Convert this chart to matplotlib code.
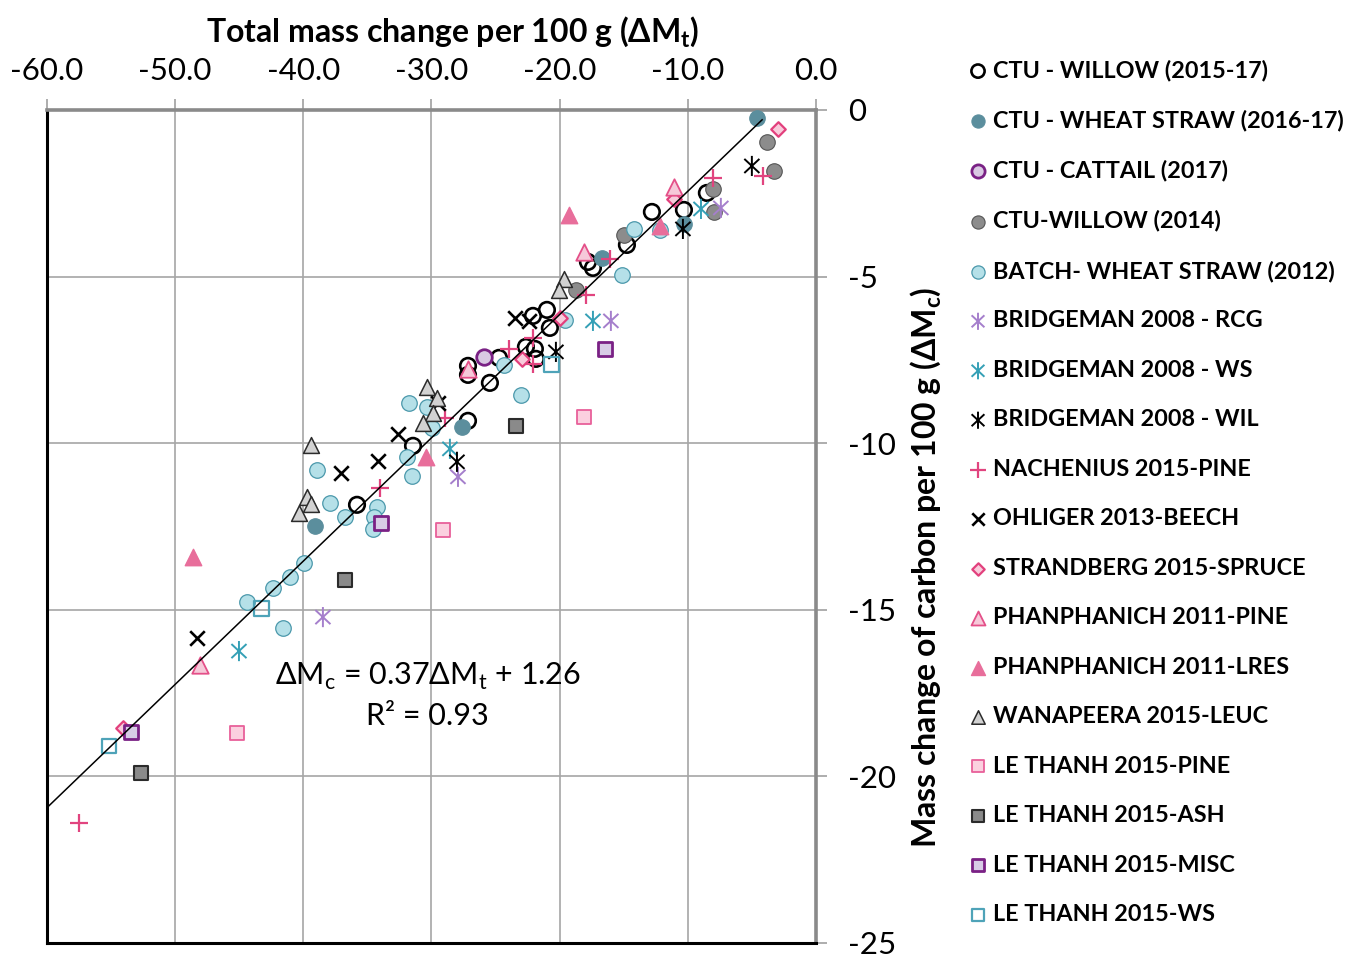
import numpy as np
import matplotlib
matplotlib.use("Agg")
from matplotlib import pyplot as plt
from matplotlib.path import Path

plt.rcParams['font.family'] = ['Lato', 'DejaVu Sans']
plt.rcParams['mathtext.fontset'] = 'custom'
plt.rcParams['mathtext.rm'] = 'Lato'
plt.rcParams['mathtext.bf'] = 'Lato:bold'

# total mass change (x) and carbon mass change (y), per 100 g
ctu_willow_x = [-8.51, -10.30, -12.80, -14.75, -17.79, -17.40, -20.99, -22.08, -20.76, -22.63,
                -21.93, -21.85, -24.73, -27.15, -27.15, -25.44, -27.15, -31.44, -35.81]
ctu_willow_y = [-2.49, -3.00, -3.06, -4.05, -4.56, -4.74, -6.00, -6.18, -6.54, -7.11,
                -7.17, -7.47, -7.44, -7.68, -7.95, -8.19, -9.33, -10.08, -11.85]

ctu_straw_x = [-4.61, -10.30, -16.70, -27.62, -39.09]
ctu_straw_y = [-0.24, -3.42, -4.44, -9.51, -12.48]

ctu_cattail_x = [-25.91]
ctu_cattail_y = [-7.41]

ctu_willow14_x = [-3.83, -3.28, -8.04, -7.96, -14.98, -18.73]
ctu_willow14_y = [-0.96, -1.83, -2.37, -3.06, -3.75, -5.40]

batch_straw_x = [-12.17, -14.20, -15.14, -19.58, -24.34, -23.02, -31.76, -30.35, -29.96, -31.91, -31.52,
                 -38.93, -37.92, -36.75, -34.25, -34.49, -34.57, -39.95, -41.04, -42.37, -44.40, -41.59]
batch_straw_y = [-3.60, -3.57, -4.95, -6.30, -7.65, -8.55, -8.79, -8.91, -9.54, -10.41, -10.98,
                 -10.80, -11.79, -12.21, -11.91, -12.21, -12.57, -13.59, -14.02, -14.35, -14.77, -15.55]

bridge_rcg_x = [-7.42, -16.00, -27.93, -38.47]
bridge_rcg_y = [-2.94, -6.33, -11.01, -15.22]

bridge_ws_x = [-8.97, -17.40, -28.56, -45.02]
bridge_ws_y = [-2.97, -6.33, -10.17, -16.24]

bridge_wil_x = [-5.00, -10.38, -20.29, -28.01]
bridge_wil_y = [-1.68, -3.57, -7.26, -10.56]

nachenius_x = [-4.14, -8.04, -16.07, -17.95, -22.08, -23.95, -22.08, -28.95, -34.02, -57.50]
nachenius_y = [-1.98, -2.04, -4.47, -5.55, -6.84, -7.17, -7.62, -9.24, -11.34, -21.40]

ohliger_x = [-23.49, -22.39, -29.49, -32.61, -34.17, -37.06, -48.30]
ohliger_y = [-6.24, -6.33, -8.79, -9.72, -10.53, -10.89, -15.85]

strandberg_x = [-2.97, -11.08, -19.98, -22.94, -54.07]
strandberg_y = [-0.57, -2.67, -6.24, -7.47, -18.55]

phan_pine_x = [-11.08, -18.10, -27.15, -48.06]
phan_pine_y = [-2.31, -4.26, -7.77, -16.66]

phan_lres_x = [-19.27, -12.17, -30.43, -48.61]
phan_lres_y = [-3.15, -3.48, -10.41, -13.41]

wanapeera_x = [-19.66, -20.05, -30.35, -29.57, -29.88, -30.66, -39.40, -39.71, -39.40, -40.34]
wanapeera_y = [-5.07, -5.40, -8.31, -8.64, -9.09, -9.39, -10.05, -11.61, -11.82, -12.09]

lt_pine_x = [-18.10, -29.10, -45.18]
lt_pine_y = [-9.21, -12.60, -18.70]

lt_ash_x = [-23.41, -36.75, -52.67]
lt_ash_y = [-9.48, -14.10, -19.90]

lt_misc_x = [-16.47, -33.94, -53.45]
lt_misc_y = [-7.17, -12.39, -18.67]

lt_ws_x = [-20.60, -43.23, -55.16]
lt_ws_y = [-7.65, -14.95, -19.09]

# linear fit reported on the chart
slope, intercept, r2 = 0.37, 1.26, 0.93
fit_x = np.array([-60.0, -4.2])

# excel-style asterisk: vertical bar plus an X
star = Path([(0, -1), (0, 1), (-0.75, -0.7), (0.75, 0.7), (-0.75, 0.7), (0.75, -0.7)],
            [Path.MOVETO, Path.LINETO, Path.MOVETO, Path.LINETO, Path.MOVETO, Path.LINETO])

series = [
    ("CTU - WILLOW (2015-17)", ctu_willow_x, ctu_willow_y, dict(marker='o', s=125, facecolors='none', edgecolors='black', linewidths=1.9)),
    ("CTU - WHEAT STRAW (2016-17)", ctu_straw_x, ctu_straw_y, dict(marker='o', s=125, facecolors='#5b8e9d', edgecolors='#5b8e9d', linewidths=0.8)),
    ("CTU - CATTAIL (2017)", ctu_cattail_x, ctu_cattail_y, dict(marker='o', s=125, facecolors='#d9c9e3', edgecolors='#7a2185', linewidths=2.0)),
    ("CTU-WILLOW (2014)", ctu_willow14_x, ctu_willow14_y, dict(marker='o', s=125, facecolors='#8c8c8c', edgecolors='#555555', linewidths=0.8)),
    ("BATCH- WHEAT STRAW (2012)", batch_straw_x, batch_straw_y, dict(marker='o', s=125, facecolors='#b5e0e8', edgecolors='#4a98ab', linewidths=0.9)),
    ("BRIDGEMAN 2008 - RCG", bridge_rcg_x, bridge_rcg_y, dict(marker=star, s=210, facecolors='none', edgecolors='#a57fcc', linewidths=1.4)),
    ("BRIDGEMAN 2008 - WS", bridge_ws_x, bridge_ws_y, dict(marker=star, s=210, facecolors='none', edgecolors='#35a0b6', linewidths=1.4)),
    ("BRIDGEMAN 2008 - WIL", bridge_wil_x, bridge_wil_y, dict(marker=star, s=210, facecolors='none', edgecolors='black', linewidths=1.4)),
    ("NACHENIUS 2015-PINE", nachenius_x, nachenius_y, dict(marker='+', s=180, c='#e1447f', linewidths=1.6)),
    ("OHLIGER 2013-BEECH", ohliger_x, ohliger_y, dict(marker='x', s=110, c='black', linewidths=1.9)),
    ("STRANDBERG 2015-SPRUCE", strandberg_x, strandberg_y, dict(marker='D', s=55, facecolors='#f8cbdb', edgecolors='#e2407d', linewidths=1.6)),
    ("PHANPHANICH 2011-PINE", phan_pine_x, phan_pine_y, dict(marker='^', s=140, facecolors='#f6c9d9', edgecolors='#e45089', linewidths=1.3)),
    ("PHANPHANICH 2011-LRES", phan_lres_x, phan_lres_y, dict(marker='^', s=140, facecolors='#e86e9b', edgecolors='#e86e9b', linewidths=1.0)),
    ("WANAPEERA 2015-LEUC", wanapeera_x, wanapeera_y, dict(marker='^', s=130, facecolors='#d2d2d2', edgecolors='#2b2b2b', linewidths=1.1)),
    ("LE THANH 2015-PINE", lt_pine_x, lt_pine_y, dict(marker='s', s=115, facecolors='#fbd0df', edgecolors='#e8609a', linewidths=1.3)),
    ("LE THANH 2015-ASH", lt_ash_x, lt_ash_y, dict(marker='s', s=115, facecolors='#8a8a8a', edgecolors='#2b2b2b', linewidths=1.5)),
    ("LE THANH 2015-MISC", lt_misc_x, lt_misc_y, dict(marker='s', s=115, facecolors='#d8cce6', edgecolors='#7a2185', linewidths=2.0)),
    ("LE THANH 2015-WS", lt_ws_x, lt_ws_y, dict(marker='s', s=115, facecolors='none', edgecolors='#4ea3b8', linewidths=1.6)),
]

fig = plt.figure(figsize=(13.46, 9.58), dpi=100)
ax = fig.add_axes([0.0349, 0.0157, 0.5713, 0.8695])

handles = []
for i, (name, xs, ys, style) in enumerate(series):
    h = ax.scatter(xs, ys, label=name, zorder=3 + i * 0.01, **style)
    handles.append(h)

ax.plot(fit_x, slope * fit_x + intercept, color='black', lw=1.1, zorder=5)

ax.set_xlim(-60, 0)
ax.set_ylim(-25, 0)
ax.set_xticks(np.arange(-60, 1, 10))
ax.set_xticklabels([f"{v:.1f}" for v in np.arange(-60, 1, 10)])
ax.set_yticks(np.arange(-25, 1, 5))
ax.set_yticklabels([f"{v:d}" for v in np.arange(-25, 1, 5)])
ax.xaxis.tick_top()
ax.yaxis.tick_right()
ax.tick_params(axis='both', direction='out', length=8, width=1.2, color='#a0a0a0',
               labelsize=22.5, labelcolor='black')
ax.tick_params(axis='x', pad=10)
ax.tick_params(axis='y', pad=15)
ax.grid(True, color='#a6a6a6', lw=1.2)
ax.set_axisbelow(True)

for side in ('left', 'bottom'):
    ax.spines[side].set_color('black')
    ax.spines[side].set_linewidth(2.2)
for side in ('top', 'right'):
    ax.spines[side].set_color('#8a8a8a')
    ax.spines[side].set_linewidth(2.6)

ax.set_xlabel(r"Total mass change per 100 g (ΔM$_\mathbf{t}$)", fontsize=23, fontweight='bold', labelpad=11)
ax.xaxis.set_label_position('top')
ax.xaxis.label.set_x(0.527)
ax.set_ylabel(r"Mass change of carbon per 100 g (ΔM$_\mathbf{c}$)", fontsize=23, fontweight='bold', labelpad=9)
ax.yaxis.set_label_position('right')
ax.yaxis.label.set_y(0.451)

ax.text(-30.3, -17.0, f"ΔM$_\\mathrm{{c}}$ = {slope:.2f}ΔM$_\\mathrm{{t}}$ + {intercept:.2f}",
        fontsize=22, ha='center', va='center', zorder=6)
ax.text(-30.3, -18.2, f"R² = {r2:.2f}", fontsize=22, ha='center', va='center', zorder=6)

fig.legend(handles=handles, loc='upper left', bbox_to_anchor=(0.7214, 0.9379), frameon=False,
           prop={'weight': 'bold', 'size': 16.8}, markerscale=0.85, borderaxespad=0,
           handlelength=0.6, handletextpad=0.34, labelspacing=1.22, borderpad=0, scatterpoints=1)

fig.savefig("out.png", dpi=100)
